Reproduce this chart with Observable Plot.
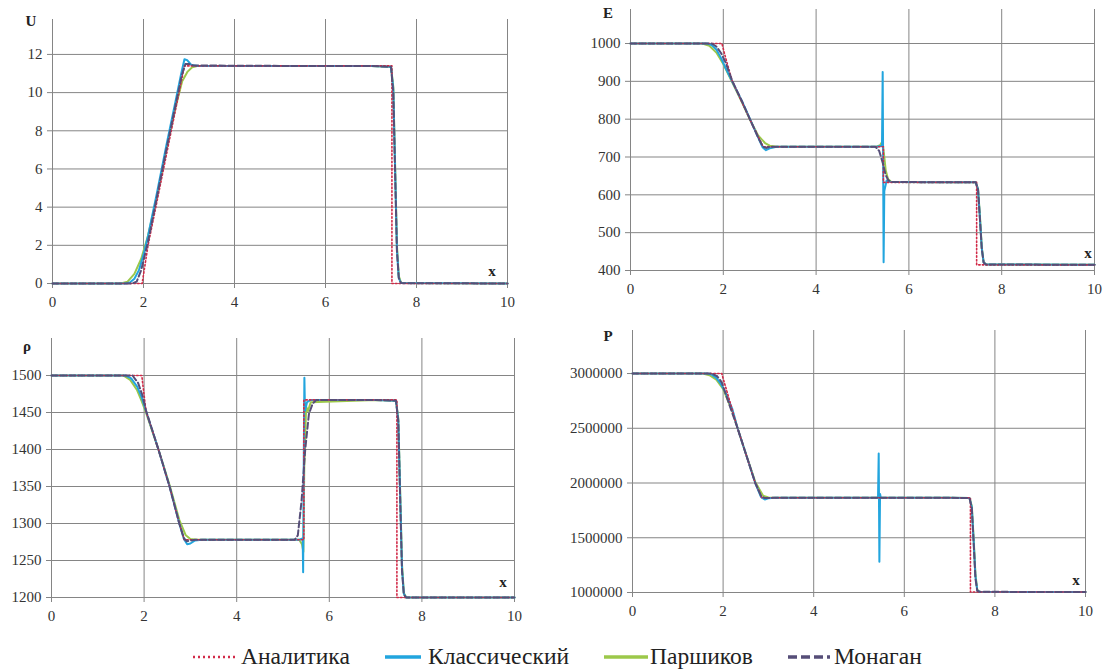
<!DOCTYPE html>
<html><head><meta charset="utf-8">
<script src="https://cdn.jsdelivr.net/npm/d3@7"></script>
<script src="https://cdn.jsdelivr.net/npm/@observablehq/plot@0.6"></script>
<style>
body{margin:0;background:#fff;}
#wrap{position:relative;width:1103px;height:669px;overflow:hidden;font-family:"Liberation Serif","Tinos","Times New Roman","DejaVu Serif","Noto Serif",serif;background:#fff;}
.panel{position:absolute;}
.lab{position:absolute;font-weight:bold;font-size:15px;transform:translate(-50%,-50%);color:#222;line-height:1;}
.leg{position:absolute;font-size:23.5px;color:#222;line-height:1;transform:translateY(-50%);white-space:nowrap;}
.sw{position:absolute;}
</style></head><body><div id="wrap"></div>
<script>
// ---- categories / series ----
const seriesNames = ["Аналитика", "Классический", "Паршиков", "Монаган"];
const xTicks = [0, 2, 4, 6, 8, 10];

// ---- U ----
const uAnaX = [0, 1.97, 2.1, 2.9, 7.46, 7.46, 10];
const uAnaY = [0, 0, 2.0, 11.4, 11.4, 0, 0];
const uClsX = [0, 1.6, 1.7, 1.8, 1.9, 2.0, 2.1, 2.3, 2.5, 2.7, 2.82, 2.9, 2.96, 3.05, 3.2, 5.0, 7.0, 7.44, 7.49, 7.53, 7.57, 7.61, 7.66, 10];
const uClsY = [0, 0, 0.05, 0.25, 0.7, 1.5, 2.5, 4.8, 7.2, 9.5, 10.9, 11.75, 11.7, 11.45, 11.4, 11.4, 11.4, 11.35, 10.2, 6.0, 1.8, 0.3, 0.02, 0];
const uParX = [0, 1.5, 1.65, 1.8, 1.95, 2.1, 2.3, 2.5, 2.7, 2.85, 2.97, 3.07, 3.2, 5.0, 7.0, 7.44, 7.49, 7.53, 7.57, 7.61, 7.66, 10];
const uParY = [0, 0, 0.1, 0.5, 1.3, 2.5, 4.6, 7.0, 9.2, 10.6, 11.1, 11.33, 11.4, 11.4, 11.4, 11.35, 10.3, 6.2, 2.0, 0.4, 0.03, 0];
const uMonX = [0, 1.75, 1.85, 1.95, 2.1, 2.3, 2.5, 2.7, 2.84, 2.92, 3.0, 3.1, 5.0, 7.0, 7.44, 7.49, 7.53, 7.57, 7.61, 7.66, 10];
const uMonY = [0, 0, 0.1, 0.7, 2.2, 4.6, 7.0, 9.3, 10.9, 11.5, 11.5, 11.42, 11.4, 11.4, 11.35, 10.0, 5.8, 1.7, 0.3, 0.02, 0];
const uTicks = [0, 2, 4, 6, 8, 10, 12];

// ---- E ----
const eAnaX = [0, 1.97, 2.05, 2.19, 2.57, 2.86, 5.45, 5.45, 7.46, 7.46, 10];
const eAnaY = [1000, 1000, 962, 902, 800, 727, 727, 633, 633, 415, 415];
const eClsX = [0, 1.65, 1.75, 1.85, 1.95, 2.05, 2.19, 2.4, 2.57, 2.75, 2.85, 2.92, 3.0, 3.15, 5.3, 5.42, 5.435, 5.445, 5.455, 5.47, 5.52, 5.6, 7.0, 7.44, 7.49, 7.53, 7.57, 7.61, 7.66, 10];
const eClsY = [1000, 1000, 996, 984, 962, 935, 900, 848, 802, 752, 725, 718, 723, 727, 727, 730, 925, 680, 422, 610, 638, 634, 633, 633, 615, 540, 460, 422, 416, 415];
const eParX = [0, 1.55, 1.7, 1.85, 2.0, 2.19, 2.4, 2.57, 2.75, 2.9, 3.0, 3.15, 5.3, 5.38, 5.43, 5.47, 5.5, 5.55, 5.62, 7.0, 7.44, 7.49, 7.53, 7.57, 7.61, 7.66, 10];
const eParY = [1000, 1000, 994, 976, 946, 898, 845, 800, 757, 737, 730, 727, 727, 731, 742, 700, 665, 642, 634, 633, 633, 616, 545, 462, 423, 416, 415];
const eMonX = [0, 1.75, 1.85, 1.95, 2.05, 2.19, 2.4, 2.57, 2.75, 2.85, 2.92, 3.0, 5.28, 5.36, 5.44, 5.5, 5.56, 5.64, 7.0, 7.44, 7.49, 7.53, 7.57, 7.61, 7.66, 10];
const eMonY = [1000, 1000, 992, 975, 950, 902, 848, 801, 752, 728, 724, 727, 727, 716, 683, 652, 638, 634, 633, 633, 614, 538, 458, 421, 416, 415];
const eTicks = [400, 500, 600, 700, 800, 900, 1000];

// ---- rho ----
const rAnaX = [0, 1.95, 2.04, 2.31, 2.55, 2.76, 2.87, 5.45, 5.45, 7.46, 7.46, 10];
const rAnaY = [1500, 1500, 1452, 1400, 1350, 1300, 1278, 1278, 1467, 1467, 1200, 1200];
const rClsX = [0, 1.6, 1.72, 1.85, 1.95, 2.04, 2.31, 2.55, 2.76, 2.86, 2.93, 3.0, 3.1, 3.25, 5.35, 5.425, 5.435, 5.45, 5.462, 5.475, 5.52, 5.6, 7.0, 7.44, 7.49, 7.53, 7.57, 7.61, 7.66, 10];
const rClsY = [1500, 1500, 1496, 1485, 1470, 1452, 1400, 1350, 1300, 1279, 1272, 1273, 1277, 1278, 1278, 1280, 1234, 1400, 1497, 1452, 1464, 1467, 1467, 1466, 1440, 1340, 1240, 1205, 1200, 1200];
const rParX = [0, 1.55, 1.7, 1.85, 1.95, 2.04, 2.31, 2.55, 2.76, 2.9, 3.0, 3.15, 5.35, 5.41, 5.44, 5.46, 5.5, 5.54, 5.6, 7.0, 7.44, 7.49, 7.53, 7.57, 7.61, 7.66, 10];
const rParY = [1500, 1500, 1494, 1480, 1465, 1450, 1400, 1352, 1305, 1284, 1279, 1278, 1278, 1272, 1262, 1380, 1458, 1452, 1464, 1467, 1466, 1442, 1345, 1245, 1206, 1200, 1200];
const rMonX = [0, 1.75, 1.87, 1.96, 2.04, 2.31, 2.55, 2.76, 2.86, 2.92, 3.0, 3.1, 5.25, 5.32, 5.4, 5.48, 5.56, 5.64, 5.72, 7.0, 7.44, 7.49, 7.53, 7.57, 7.61, 7.66, 10];
const rMonY = [1500, 1500, 1490, 1474, 1453, 1400, 1350, 1300, 1280, 1276, 1277, 1278, 1278, 1284, 1330, 1400, 1448, 1462, 1467, 1467, 1466, 1438, 1335, 1236, 1204, 1200, 1200];
const rTicks = [1200, 1250, 1300, 1350, 1400, 1450, 1500];

// ---- P ----
const pAnaX = [0, 1.97, 2.32, 2.71, 2.86, 7.46, 7.46, 10];
const pAnaY = [3000000, 3000000, 2500000, 2000000, 1865000, 1865000, 1005000, 1005000];
const pClsX = [0, 1.65, 1.75, 1.85, 1.95, 2.05, 2.2, 2.32, 2.5, 2.71, 2.84, 2.92, 3.0, 3.15, 5.42, 5.435, 5.45, 5.465, 5.48, 7.0, 7.44, 7.49, 7.53, 7.57, 7.61, 7.66, 10];
const pClsY = [3000000, 3000000, 2990000, 2960000, 2905000, 2830000, 2680000, 2500000, 2270000, 2000000, 1870000, 1850000, 1860000, 1865000, 1865000, 2270000, 1280000, 1900000, 1865000, 1865000, 1862000, 1780000, 1480000, 1150000, 1020000, 1006000, 1005000];
const pParX = [0, 1.55, 1.7, 1.85, 2.0, 2.2, 2.32, 2.5, 2.71, 2.88, 3.0, 3.15, 7.0, 7.44, 7.49, 7.53, 7.57, 7.61, 7.66, 10];
const pParY = [3000000, 3000000, 2985000, 2945000, 2860000, 2660000, 2500000, 2270000, 2010000, 1885000, 1868000, 1865000, 1865000, 1862000, 1790000, 1500000, 1170000, 1025000, 1006000, 1005000];
const pMonX = [0, 1.75, 1.87, 1.97, 2.1, 2.32, 2.5, 2.71, 2.84, 2.92, 3.0, 3.1, 7.0, 7.44, 7.49, 7.53, 7.57, 7.61, 7.66, 10];
const pMonY = [3000000, 3000000, 2975000, 2920000, 2760000, 2500000, 2270000, 2000000, 1880000, 1862000, 1863000, 1865000, 1865000, 1862000, 1770000, 1460000, 1130000, 1018000, 1006000, 1005000];
const pTicks = [1000000, 1500000, 2000000, 2500000, 3000000];

// ---- styles ----
const styles = {
  "Аналитика":   {stroke: "#d12a48", strokeWidth: 1.6, strokeDasharray: "1.5,2.2"},
  "Классический":{stroke: "#22a5de", strokeWidth: 2},
  "Паршиков":    {stroke: "#9cc84a", strokeWidth: 2},
  "Монаган":     {stroke: "#564e78", strokeWidth: 2, strokeDasharray: "6,3"}
};
const drawOrder = ["Паршиков", "Классический", "Аналитика", "Монаган"];

const panels = [
  {lab: "U", left: 0, top: 0, width: 530, height: 310, mL: 52, mR: 23, mT: 19, mB: 27, domain: [0, 13.83], ticks: uTicks,
   data: {"Аналитика": [uAnaX, uAnaY], "Классический": [uClsX, uClsY], "Паршиков": [uParX, uParY], "Монаган": [uMonX, uMonY]},
   labPos: [31, 21], xPos: [492, 271]},
  {lab: "E", left: 560, top: 0, width: 543, height: 300, mL: 70, mR: 9, mT: 9, mB: 30, domain: [400, 1089.9], ticks: eTicks,
   data: {"Аналитика": [eAnaX, eAnaY], "Классический": [eClsX, eClsY], "Паршиков": [eParX, eParY], "Монаган": [eMonX, eMonY]},
   labPos: [608, 13], xPos: [1088, 253]},
  {lab: "ρ", left: 0, top: 320, width: 540, height: 300, mL: 51, mR: 26, mT: 18, mB: 23, domain: [1200, 1550], ticks: rTicks,
   data: {"Аналитика": [rAnaX, rAnaY], "Классический": [rClsX, rClsY], "Паршиков": [rParX, rParY], "Монаган": [rMonX, rMonY]},
   labPos: [27, 346], xPos: [503, 582]},
  {lab: "P", left: 560, top: 320, width: 543, height: 300, mL: 72, mR: 18, mT: 10, mB: 28, domain: [1000000, 3393000], ticks: pTicks,
   data: {"Аналитика": [pAnaX, pAnaY], "Классический": [pClsX, pClsY], "Паршиков": [pParX, pParY], "Монаган": [pMonX, pMonY]},
   labPos: [608, 336], xPos: [1076, 580]}
];

const wrap = document.getElementById("wrap");
const grid = "#858585";
const fontStack = "'Liberation Serif','Tinos','Times New Roman','DejaVu Serif','Noto Serif',serif";

for (const p of panels) {
  const lineMarks = drawOrder.map(name => {
    const [xs, ys] = p.data[name];
    const rows = xs.map((x, i) => ({x, y: ys[i], s: name}));
    return Plot.line(rows, {x: "x", y: "y", ...styles[name], strokeLinejoin: "round"});
  });
  const svg = Plot.plot({
    width: p.width, height: p.height,
    marginLeft: p.mL, marginRight: p.mR, marginTop: p.mT, marginBottom: p.mB,
    style: {fontFamily: fontStack, fontSize: "15px", background: "transparent", color: "#333", overflow: "visible"},
    x: {domain: [0, 10]},
    y: {domain: p.domain},
    marks: [
      Plot.gridX(xTicks, {stroke: grid, strokeOpacity: 1, strokeWidth: 1}),
      Plot.gridY(p.ticks, {stroke: grid, strokeOpacity: 1, strokeWidth: 1}),
      Plot.axisX(xTicks, {tickSize: 5, tickPadding: 8, stroke: grid, fill: "#333", label: null, tickFormat: d => String(d)}),
      Plot.axisY(p.ticks, {tickSize: 5, tickPadding: 5, stroke: grid, fill: "#333", label: null, tickFormat: d => String(d)}),
      ...lineMarks
    ]
  });
  svg.style.fontFamily = fontStack;
  const div = document.createElement("div");
  div.className = "panel";
  div.style.left = p.left + "px";
  div.style.top = p.top + "px";
  div.appendChild(svg);
  wrap.appendChild(div);
  const l = document.createElement("div");
  l.className = "lab"; l.textContent = p.lab;
  l.style.left = p.labPos[0] + "px"; l.style.top = p.labPos[1] + "px";
  wrap.appendChild(l);
  const xl = document.createElement("div");
  xl.className = "lab"; xl.textContent = "x";
  xl.style.left = p.xPos[0] + "px"; xl.style.top = p.xPos[1] + "px";
  wrap.appendChild(xl);
}

// ---- legend ----
const legendPos = {
  "Аналитика":   {sw: [193, 238], tx: 241},
  "Классический":{sw: [385, 421], tx: 428},
  "Паршиков":    {sw: [604, 648], tx: 650},
  "Монаган":     {sw: [788, 830], tx: 834}
};
const ly = 657;
for (const name of seriesNames) {
  const lp = legendPos[name], st = styles[name];
  const w = lp.sw[1] - lp.sw[0];
  const ns = "http://www.w3.org/2000/svg";
  const s = document.createElementNS(ns, "svg");
  s.setAttribute("class", "sw");
  s.setAttribute("width", w); s.setAttribute("height", 10);
  s.style.left = lp.sw[0] + "px"; s.style.top = (ly - 5) + "px";
  const ln = document.createElementNS(ns, "line");
  ln.setAttribute("x1", 0); ln.setAttribute("x2", w);
  ln.setAttribute("y1", 5); ln.setAttribute("y2", 5);
  ln.setAttribute("stroke", st.stroke);
  ln.setAttribute("stroke-width", name === "Аналитика" ? 2.5 : 3.5);
  if (st.strokeDasharray) ln.setAttribute("stroke-dasharray", name === "Аналитика" ? "2,3" : "9,4");
  s.appendChild(ln);
  wrap.appendChild(s);
  const t = document.createElement("div");
  t.className = "leg"; t.textContent = name;
  t.style.left = lp.tx + "px"; t.style.top = ly + "px";
  wrap.appendChild(t);
}
</script></body></html>
